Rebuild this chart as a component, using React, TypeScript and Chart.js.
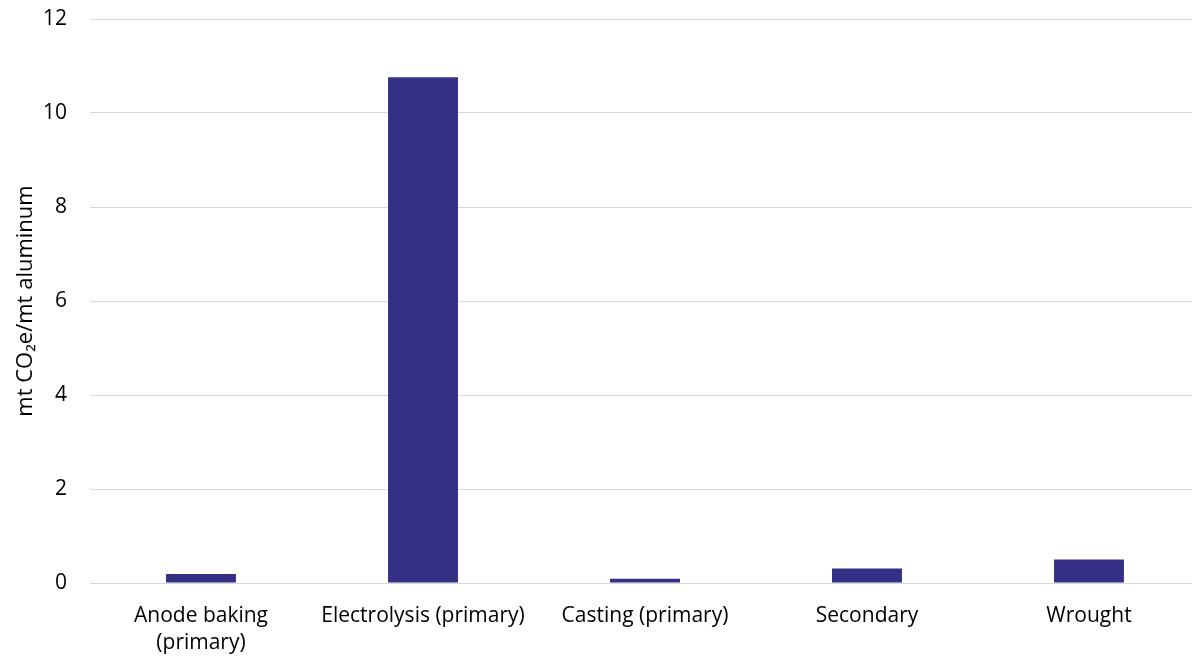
import React, { useEffect, useRef } from "react";
import { Chart, registerables } from "chart.js";

Chart.register(...registerables);

const categories: (string | string[])[] = [
  ["Anode baking", "(primary)"],
  "Electrolysis (primary)",
  "Casting (primary)",
  "Secondary",
  "Wrought",
];
const emissions = [0.19, 10.76, 0.09, 0.31, 0.5];
const yTitle = "mt CO\u2082e/mt aluminum";
const yMin = 0;
const yMax = 12;
const yStep = 2;

const FONT = "'Open Sans', sans-serif";

export default function App() {
  const ref = useRef<HTMLCanvasElement | null>(null);
  useEffect(() => {
    if (!ref.current) return;
    const chart = new Chart(ref.current, {
      type: "bar",
      data: {
        labels: categories,
        datasets: [
          {
            data: emissions,
            backgroundColor: "#343085",
            borderWidth: 0,
            barPercentage: 0.315,
            categoryPercentage: 1,
          },
        ],
      },
      options: {
        responsive: false,
        animation: false,
        layout: { padding: { top: 19, left: 0, right: 0, bottom: 0 } },
        plugins: { legend: { display: false }, tooltip: { enabled: false } },
        scales: {
          x: {
            grid: { display: false },
            border: { display: false },
            ticks: {
              color: "#000",
              font: { family: FONT, size: 21, lineHeight: 1.3 },
              padding: 11,
              maxRotation: 0,
              autoSkip: false,
            },
            afterFit: (s: any) => {
              s.height = 73;
            },
          },
          y: {
            min: yMin,
            max: yMax,
            grid: {
              color: "#d9d9d9",
              drawTicks: true,
              tickLength: 20,
              tickColor: "rgba(0,0,0,0)",
              lineWidth: 1,
            },
            border: { display: false },
            ticks: {
              stepSize: yStep,
              color: "#000",
              font: { family: FONT, size: 21 },
              padding: 3,
            },
            title: {
              display: true,
              text: yTitle,
              color: "#000",
              font: { family: FONT, size: 22 },
              padding: { top: 13, bottom: 0 },
            },
            afterFit: (s: any) => {
              s.width = 90;
            },
          },
        },
      },
    });
    return () => chart.destroy();
  }, []);
  return (
    <div
      style={{
        position: "fixed",
        left: 0,
        top: 0,
        width: 1192,
        height: 656,
        overflow: "hidden",
        background: "#fff",
      }}
    >
      <canvas ref={ref} width={1200} height={656} />
    </div>
  );
}
